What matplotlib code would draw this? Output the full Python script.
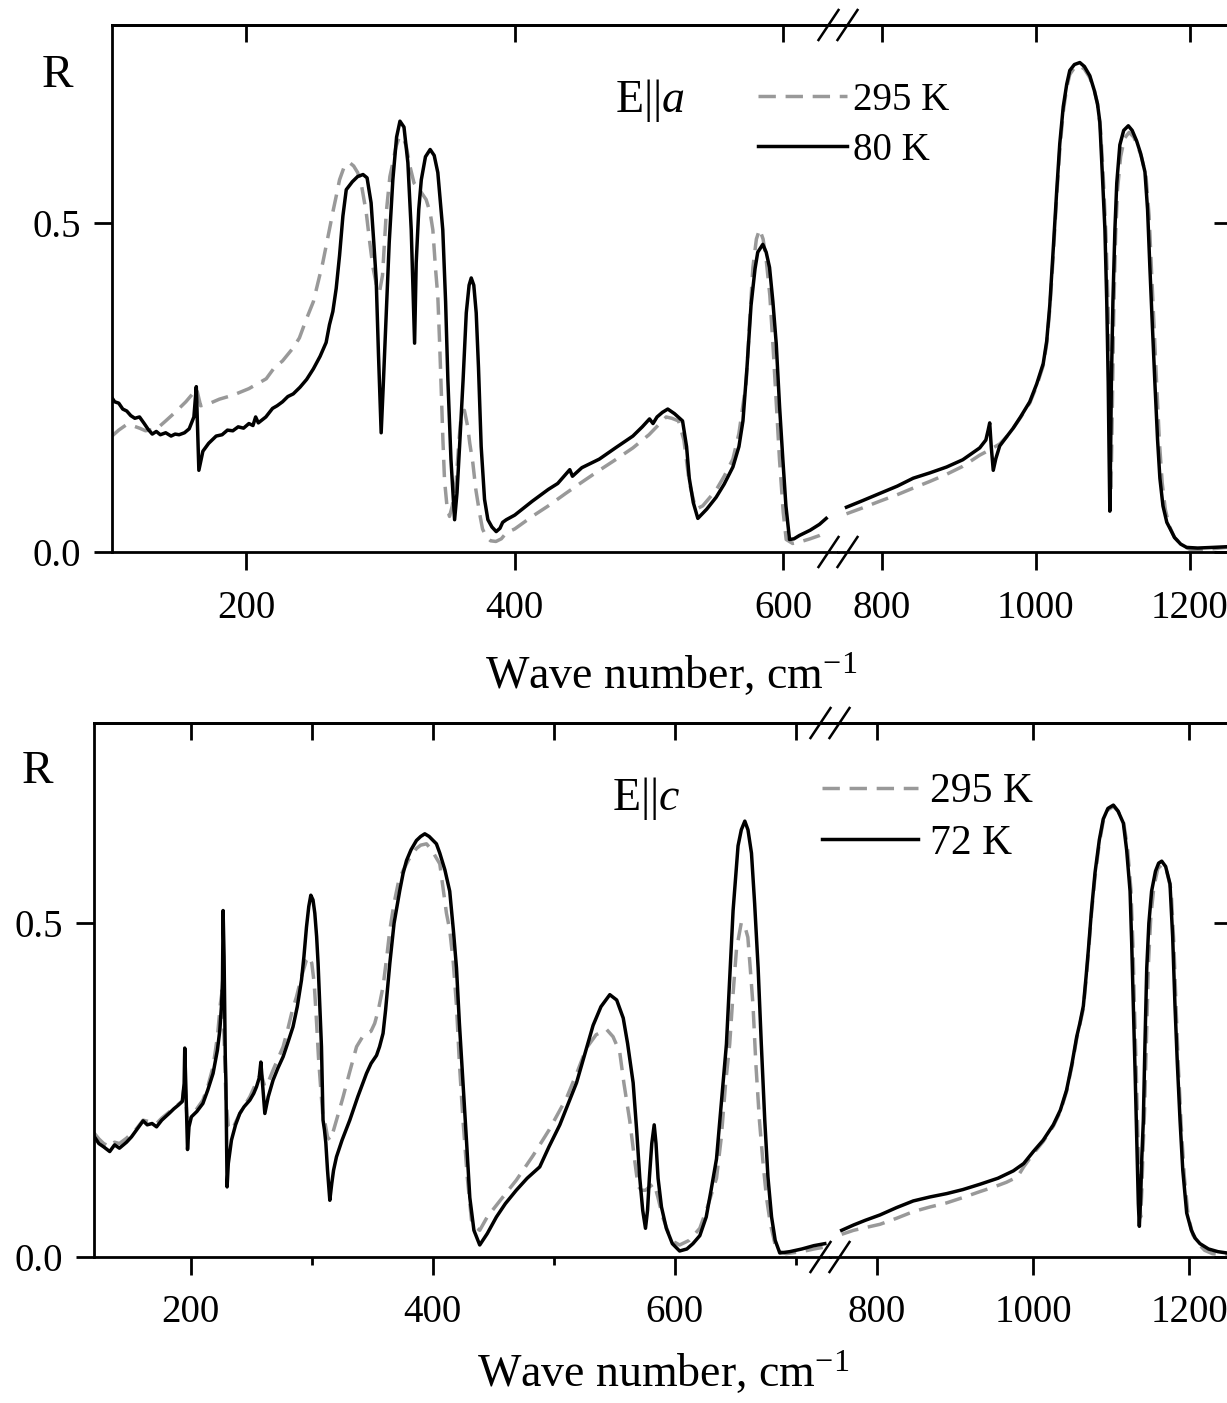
import numpy as np
import matplotlib
matplotlib.use("Agg")
import matplotlib.pyplot as plt
from matplotlib.lines import Line2D
from matplotlib.ticker import FixedLocator, FormatStrFormatter

plt.rcParams['font.family'] = ['Liberation Serif', 'DejaVu Serif']
plt.rcParams['mathtext.fontset'] = 'custom'
plt.rcParams['mathtext.rm'] = 'Liberation Serif'
plt.rcParams['mathtext.it'] = 'Liberation Serif:italic'

# ---------------- DATA ----------------
# Panel E||a : (wave number cm-1, R)
a_295K = [(100, .176), (105, .185), (110.6, .193), (115, .192), (120.5, .188), (125, .184), (130, .186),
          (135, .19), (140, .199), (147, .212), (155, .228), (160, .24), (163, .248), (166, .222), (172, .225),
          (180, .232), (190, .238), (202, .248), (214.9, .263), (221, .28), (227, .29), (235, .31), (239.6, .325),
          (244.5, .352), (250, .38), (257, .439), (262, .49), (264.4, .515), (267, .54), (269.5, .565), (273, .585),
          (277, .591), (280, .586), (283, .576), (286, .555), (289.4, .515), (292, .47), (294.3, .433), (297, .405),
          (299.3, .395), (301.5, .42), (304.3, .515), (307, .57), (309.2, .591), (311.5, .615), (314.2, .631),
          (317, .628), (319.2, .616), (322, .585), (325, .56), (329, .55), (334, .535), (337, .515), (339, .489),
          (341, .43), (342.7, .388), (344, .32), (345, .261), (346.5, .17), (347.7, .109), (349.5, .07), (351.4, .054),
          (353.5, .07), (356.4, .109), (358.5, .17), (360, .205), (362.5, .215), (365, .19), (366.5, .165),
          (368.8, .135), (371, .095), (373.8, .059), (376, .035), (378.8, .023), (382, .017), (386, .016), (390, .02),
          (393.7, .029), (400, .035), (413, .054), (425, .07), (438, .089), (450, .106), (463, .124), (475, .14),
          (488, .158), (500, .178), (512.8, .205), (517, .203), (522, .199), (526, .17), (530, .106), (533, .08),
          (535, .065), (540, .07), (550, .094), (556, .115), (562.5, .141), (567, .18), (572.4, .257), (575, .35),
          (577.4, .432), (580, .475), (582.4, .49), (585, .475), (587.3, .444), (590, .39), (592.3, .316), (595, .22),
          (597.2, .141), (600, .06), (602.2, .019), (607, .013), (612, .015), (620, .02), (627, .025), (632, .03),
          (754, .058), (775, .067), (797, .077), (820, .087), (840.6, .097), (862, .107), (884, .118), (905, .13),
          (927, .147), (940, .155), (953, .164), (962, .175), (970.5, .188), (980, .204), (992, .226), (1001, .252),
          (1009.5, .283), (1014, .316), (1018, .368), (1022, .44), (1027, .54), (1031, .61), (1035.5, .668),
          (1040, .705), (1044, .725), (1050, .735), (1057, .738), (1063, .733), (1070, .72), (1076, .70), (1080, .68),
          (1084, .64), (1087, .58), (1091, .48), (1094, .36), (1096, .2), (1097.5, .09), (1099, .2), (1101, .36),
          (1103.5, .48), (1106, .55), (1110, .6), (1115, .628), (1121, .637), (1127, .63), (1132, .617), (1137, .6),
          (1143, .57), (1147, .51), (1150, .43), (1153.5, .34), (1157, .25), (1160.5, .165), (1164, .105),
          (1168, .065), (1173, .04), (1180, .022), (1190, .01), (1200, .004), (1215, .003), (1230, .005), (1248, .007)]

a_80K = [(100, .234), (102, .228), (105, .226), (108, .217), (111, .214), (114, .207), (117, .203), (120.5, .205),
         (124, .195), (127, .186), (130, .179), (133, .183), (136, .178), (140, .181), (144, .176), (147, .179),
         (150, .178), (154, .181), (157.5, .187), (161, .205), (162.8, .251), (164.7, .124), (167.7, .153),
         (172, .165), (177.6, .176), (182, .178), (186, .185), (190, .184), (194, .19), (198, .188), (202, .195),
         (205, .192), (207, .205), (209, .196), (214.6, .205), (219.6, .218), (223, .222), (227, .228), (231, .236),
         (235, .24), (240, .25), (245, .262), (250, .278), (255, .297), (259.5, .318), (262, .345), (264.5, .365),
         (267, .40), (269.5, .45), (272, .51), (274.5, .55), (279, .562), (283, .57), (287, .573), (290, .568),
         (293, .53), (295, .47), (296.8, .413), (298.5, .30), (300.5, .181), (302, .25), (304.3, .363), (306.5, .47),
         (309.2, .565), (312, .63), (314.5, .654), (317.5, .645), (320.4, .591), (322.9, .489), (324.5, .38),
         (325.4, .317), (326.6, .439), (328.5, .52), (330.4, .565), (333.5, .60), (337, .611), (340, .602),
         (342.7, .576), (346.4, .489), (348.5, .38), (350.2, .261), (352.5, .14), (355.2, .049), (357, .09),
         (358.9, .16), (361.5, .26), (363.9, .363), (366, .405), (367.6, .416), (369.5, .405), (371.3, .363),
         (373, .28), (375, .16), (377.5, .08), (380, .049), (383, .038), (386.2, .031), (389, .036), (391, .045),
         (393.7, .049), (400, .056), (413, .077), (425, .095), (432, .104), (438, .118), (441, .125), (443, .115),
         (450, .128), (463, .141), (475, .158), (488, .176), (495, .19), (500.4, .202), (503, .195), (506, .205),
         (510, .212), (514, .217), (519, .21), (525, .199), (528, .16), (530, .112), (533, .075), (536.4, .051),
         (543, .065), (550, .083), (556, .103), (562.5, .129), (567, .16), (570, .199), (573, .28), (576, .374),
         (579, .43), (581, .455), (584.8, .467), (587.3, .455), (589.8, .432), (592.3, .38), (594.8, .316),
         (597.3, .22), (599.7, .141), (602, .07), (604.7, .019), (608, .02), (612, .025), (620, .033), (627, .042),
         (632, .051),
         (754, .068), (775, .078), (797.4, .089), (820, .10), (840.6, .112), (862, .12), (884, .129), (905, .14),
         (927, .158), (935, .17), (938, .185), (940, .196), (942, .16), (944.6, .124), (948, .142), (953, .161),
         (962, .175), (970.5, .188), (980, .205), (992, .228), (1001, .255), (1009.5, .286), (1014, .32),
         (1018, .374), (1022, .45), (1027, .548), (1031, .62), (1035.5, .676), (1040, .71), (1044, .731),
         (1050, .74), (1057, .743), (1063, .737), (1070, .723), (1076, .70), (1080, .68), (1083, .653), (1086, .58),
         (1089.6, .49), (1092, .38), (1093.9, .257), (1095, .15), (1096, .062), (1097, .15), (1098, .257),
         (1100, .38), (1102.6, .49), (1105, .56), (1109, .618), (1114, .64), (1120, .647), (1125, .64),
         (1130.8, .624), (1136, .605), (1141.6, .577), (1145, .52), (1148, .432), (1151, .35), (1154.5, .257),
         (1158, .17), (1161, .112), (1165, .07), (1170, .045), (1174, .036), (1180, .022), (1188, .012),
         (1195.7, .007), (1210, .006), (1230, .007), (1248, .008)]

# Panel E||c
c_295K = [(120, .186), (124, .177), (128, .17), (133, .165), (137, .172), (141, .17), (146.9, .178), (151, .185),
          (155, .192), (160.6, .205), (165, .203), (171.7, .2), (176, .208), (182.6, .218), (188, .226), (193, .234),
          (195, .265), (197, .205), (199, .208), (205, .222), (210, .235), (214, .255), (218.4, .285), (222, .33),
          (224.5, .38), (226, .40), (227.5, .33), (229, .24), (231, .195), (234, .19), (240.5, .215), (248.8, .24),
          (254.3, .262), (258, .275), (261.2, .255), (264, .262), (268, .28), (276.3, .315), (280, .34), (284, .37),
          (287.4, .39), (291.5, .42), (295.6, .445), (298, .45), (300, .44), (302, .41), (304, .35), (305.5, .30),
          (307.5, .25), (309, .215), (311, .20), (313, .18), (315, .175), (318, .19), (322, .215), (325.9, .24),
          (331, .275), (337, .315), (342, .33), (345.2, .335), (348.9, .338), (352, .35), (355, .37), (358.9, .405),
          (362, .45), (364.5, .49), (368, .53), (372, .565), (375.5, .579), (380, .595), (386.5, .612), (390, .617),
          (394.8, .619), (399, .61), (405.8, .589), (411.3, .515), (414, .49), (417, .44), (419.6, .376), (422, .29),
          (425, .204), (428.5, .12), (432, .055), (435, .045), (438.8, .04), (445, .06), (455.4, .084), (469, .115),
          (482.9, .152), (496, .19), (510.5, .238), (520, .28), (527, .313), (535, .333), (543.6, .341), (549, .33),
          (554.5, .307), (558, .26), (562.8, .204), (566.5, .15), (569.7, .106), (572.5, .10), (575.8, .10),
          (579, .105), (583, .11), (586, .09), (590, .06), (595, .035), (600, .022), (604, .018), (612, .025),
          (620.7, .043), (627, .075), (634.5, .118), (638.5, .18), (642, .26), (645.4, .319), (648, .39),
          (651, .461), (655, .501), (658, .495), (660.4, .479), (662.5, .43), (664.7, .376), (667, .29), (670, .204),
          (673, .14), (675.8, .089), (679, .05), (684, .01), (692, .005), (705, .008), (715, .012), (724, .015),
          (754.7, .034), (770, .04), (785, .044), (803.8, .049), (825, .058), (846.5, .068), (868, .075), (889, .081),
          (910, .089), (932, .098), (950, .105), (966, .112), (980, .12), (988, .135), (1000.4, .155), (1013, .173),
          (1026, .196), (1035, .218), (1043, .248), (1050, .287), (1056, .327), (1060, .348), (1064.5, .372),
          (1068, .415), (1071, .455), (1075, .515), (1079.5, .57), (1085, .62), (1090, .653), (1096, .67),
          (1103, .675), (1109, .668), (1116, .651), (1121, .615), (1125.5, .55), (1128, .47), (1130, .376),
          (1132.5, .27), (1134.5, .175), (1136.5, .09), (1138, .06), (1139.5, .10), (1141, .16), (1143, .22),
          (1145.5, .33), (1148, .44), (1151, .51), (1155, .555), (1160, .582), (1165.5, .588), (1171, .58),
          (1177, .55), (1180.5, .47), (1183.5, .37), (1186.5, .28), (1190, .195), (1194, .12), (1199, .06),
          (1205, .033), (1212, .02), (1220, .01), (1230, .005), (1248.7, .003)]

c_72K = [(120, .181), (124, .17), (128, .165), (133, .158), (137, .168), (141, .163), (146.9, .172), (151, .18),
         (155, .19), (160.6, .204), (164, .198), (168, .20), (171.7, .195), (176, .205), (182.6, .216), (186, .222),
         (190, .228), (193, .233), (194.5, .26), (195, .313), (196, .25), (197.3, .161), (198.5, .195),
         (200.5, .21), (205, .218), (210, .23), (214, .25), (218.4, .275), (222, .31), (224, .34), (225.5, .38),
         (226.2, .415), (226.7, .519), (227.5, .45), (228.5, .30), (229, .265), (230, .105), (231, .14),
         (233.6, .175), (237, .198), (240.5, .215), (244, .225), (248.8, .235), (252, .245), (254.3, .255),
         (256.5, .268), (257.9, .292), (259.5, .255), (261.2, .215), (264, .24), (268, .265), (272, .283),
         (276.3, .30), (280, .32), (284.5, .345), (288, .375), (291.5, .415), (293.5, .45), (295.6, .494),
         (297.5, .525), (299.2, .542), (301, .535), (302.5, .515), (304, .48), (305.2, .44), (306.5, .38),
         (308, .315), (309.3, .205), (310.5, .19), (311.6, .171), (313, .13), (314.9, .085), (316.5, .11),
         (318, .13), (320.4, .15), (325, .175), (331.4, .205), (338, .24), (345.2, .275), (349, .29), (353.5, .302),
         (356, .315), (358.9, .335), (361, .37), (364.5, .44), (368, .50), (372.7, .549), (375.5, .575),
         (378.3, .594), (382, .61), (386.5, .624), (390, .63), (393.4, .634), (397, .63), (403, .619), (405.8, .605),
         (410, .58), (414, .548), (417, .49), (419.6, .433), (422, .35), (425, .261), (428, .17), (430.6, .089),
         (434, .04), (438.8, .018), (445, .035), (452.6, .06), (460, .08), (469, .10), (478, .118), (488.4, .135),
         (496, .165), (505, .198), (512, .23), (518.8, .261), (525, .30), (532.5, .347), (539, .375), (546.3, .393),
         (552, .385), (557.4, .358), (561, .32), (565.6, .261), (568.5, .19), (571.1, .118), (573.5, .07),
         (575.8, .043), (577.5, .07), (579, .118), (581, .17), (583, .198), (584.5, .17), (586.2, .118), (589, .075),
         (593, .043), (598, .02), (604, .009), (610, .012), (615, .02), (620.7, .032), (626, .06), (630, .10),
         (634.5, .147), (638, .22), (642.7, .319), (645.5, .42), (648.2, .519), (652.3, .616), (655, .64),
         (657.9, .653), (660.5, .64), (663.4, .605), (666, .53), (668.9, .433), (671.5, .32), (674.4, .204),
         (677, .12), (680, .06), (683, .025), (686.8, .006), (695, .008), (705, .012), (715, .017), (724, .02),
         (754.7, .04), (770, .048), (785, .055), (803.8, .063), (825, .074), (846.5, .084), (868, .09), (889.4, .095),
         (910, .101), (932, .109), (955, .118), (974.7, .129), (988, .14), (1000.4, .158), (1013, .175), (1026, .198),
         (1035, .22), (1043, .25), (1050, .29), (1056, .33), (1060, .35), (1064.5, .376), (1068, .42), (1071, .461),
         (1075, .52), (1079.5, .576), (1085, .625), (1090, .656), (1096, .672), (1103, .677), (1109, .668),
         (1115.8, .65), (1120, .61), (1124.4, .548), (1126.5, .47), (1128.6, .376), (1131, .27), (1133, .175),
         (1135, .08), (1136.3, .046), (1138, .09), (1139.5, .15), (1141.4, .204), (1143.5, .32), (1145.8, .433),
         (1148.5, .50), (1152, .548), (1157, .578), (1161, .59), (1165, .593), (1170, .585), (1175.6, .559),
         (1179, .48), (1182, .376), (1185, .29), (1188.5, .204), (1192, .13), (1197, .066), (1203, .04),
         (1208, .028), (1214, .02), (1225, .012), (1237, .008), (1248.7, .006)]

y_ticks = [0.0, 0.5]
a_xticks_low = [200, 400, 600]
c_xticks_low = [200, 400, 600]
c_xticks_low_minor = [300, 500, 700]
xticks_high = [800, 1000, 1200]
a_labels = ['295 K', '80 K']
c_labels = ['295 K', '72 K']
xlabel_text = r'Wave number, cm$^{-1}$'

# ---------------- LAYOUT ----------------
W, H = 1227, 1403
fig = plt.figure(figsize=(W / 100, H / 100), dpi=100)


def fx(px):
    return px / W


def fy(py):
    return 1 - py / H


GREY = '#999999'
LW = 2.5
TICKFS = 28


def make_panel(ytop, ybot, l0, jx, r1, xlimL, xlimR, minorL):
    axL = fig.add_axes([fx(l0), fy(ybot), fx(jx) - fx(l0), (ybot - ytop) / H])
    axR = fig.add_axes([fx(jx), fy(ybot), fx(r1) - fx(jx), (ybot - ytop) / H])
    for ax in (axL, axR):
        ax.set_ylim(0, 0.8)
        for s in ax.spines.values():
            s.set_linewidth(2.0)
    axL.spines['right'].set_visible(False)
    axR.spines['left'].set_visible(False)
    axL.set_xlim(*xlimL)
    axR.set_xlim(*xlimR)
    axL.set_xticks(a_xticks_low if minorL is None else c_xticks_low)
    if minorL is not None:
        axL.xaxis.set_minor_locator(FixedLocator(minorL))
    axR.set_xticks(xticks_high)
    axL.set_yticks(y_ticks)
    axL.yaxis.set_major_formatter(FormatStrFormatter('%.1f'))
    axL.tick_params(axis='y', left=True, right=False, direction='out', length=13, width=2.0,
                    labelsize=TICKFS, pad=9)
    axR.set_yticks(y_ticks)
    axR.tick_params(axis='y', left=False, right=True, labelleft=False, direction='in',
                    length=11, width=2.0)
    for ax in (axL, axR):
        ax.tick_params(axis='x', which='major', bottom=True, top=False, direction='out',
                       length=13, width=2.0, labelsize=TICKFS, pad=14)
        ax.tick_params(axis='x', which='minor', bottom=True, top=False, direction='out',
                       length=6, width=2.0)
        sec = ax.secondary_xaxis('top')
        sec.set_xticks(list(ax.get_xticks()))
        if ax is axL and minorL is not None:
            sec.xaxis.set_minor_locator(FixedLocator(minorL))
        sec.tick_params(axis='x', which='major', direction='in', length=12, width=2.0, labeltop=False)
        sec.tick_params(axis='x', which='minor', direction='in', length=12, width=2.0, labeltop=False)
        sec.spines['top'].set_linewidth(2.0)
    # break marks
    for y in (ytop, ybot):
        for dx in (-9.5, 9.5):
            cx = jx + dx
            fig.add_artist(Line2D([fx(cx - 10), fx(cx + 10)], [fy(y + 15), fy(y - 15)],
                                  transform=fig.transFigure, color='black', lw=1.8))
    return axL, axR


def draw(axL, axR, data, **kw):
    x, r = np.array(data).T
    h = None
    for ax in (axL, axR):
        lo, hi = ax.get_xlim()
        m = (x >= lo) & (x <= hi)
        h, = ax.plot(x[m], r[m], solid_joinstyle='round', **kw)
    return h


# top panel E||a
aL, aR = make_panel(25, 552, 112, 838, 1228.5, (100, 640.8), (743, 1250.1), None)
hd = draw(aL, aR, a_295K, color=GREY, lw=LW, dashes=(5, 2.8))
hs = draw(aL, aR, a_80K, color='black', lw=LW)

# bottom panel E||c
cL, cR = make_panel(723, 1257, 94, 830, 1228.5, (120, 728.3), (739.7, 1250.6), c_xticks_low_minor)
hd2 = draw(cL, cR, c_295K, color=GREY, lw=LW, dashes=(5, 2.8))
hs2 = draw(cL, cR, c_72K, color='black', lw=LW)

# texts
fig.text(fx(57), fy(76), 'R', fontsize=34, ha='center', va='center')
fig.text(fx(37), fy(772), 'R', fontsize=34, ha='center', va='center')
fig.text(fx(650), fy(100), r'E||$\mathit{a}$', fontsize=33, ha='center', va='center')
fig.text(fx(646), fy(798), r'E||$\mathit{c}$', fontsize=33, ha='center', va='center')
fig.text(fx(671), fy(675), xlabel_text, fontsize=33, ha='center', va='center')
fig.text(fx(663), fy(1373), xlabel_text, fontsize=33, ha='center', va='center')

fig.legend([hd, hs], a_labels, loc='upper left', bbox_to_anchor=(fx(758), fy(82)),
           frameon=False, fontsize=28, handlelength=2.3, handletextpad=0.15,
           labelspacing=0.33, borderpad=0, borderaxespad=0)
fig.legend([hd2, hs2], c_labels, loc='upper left', bbox_to_anchor=(fx(822), fy(773)),
           frameon=False, fontsize=30, handlelength=2.3, handletextpad=0.28,
           labelspacing=0.31, borderpad=0, borderaxespad=0)

fig.savefig('out.png', dpi=100)
